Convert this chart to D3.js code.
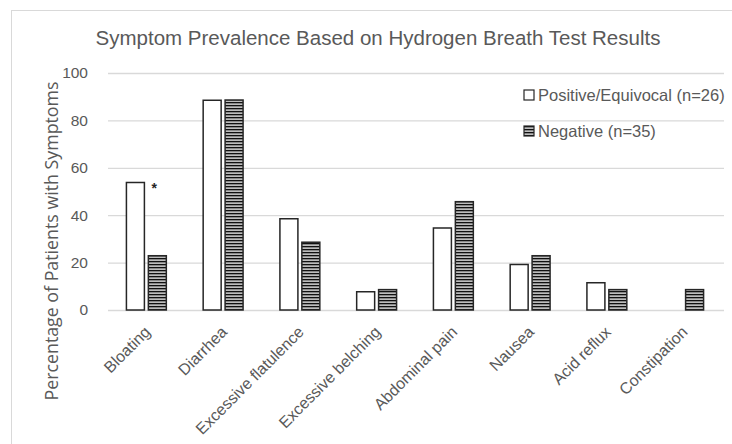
<!DOCTYPE html>
<html>
<head>
<meta charset="utf-8">
<script src="https://cdn.jsdelivr.net/npm/d3@7"></script>
<style>
  body { margin: 0; background: #fff; }
  svg { display: block; }
</style>
</head>
<body>
<div id="canvas"></div>
<script>
const categories = ['Bloating', 'Diarrhea', 'Excessive flatulence', 'Excessive belching',
  'Abdominal pain', 'Nausea', 'Acid reflux', 'Constipation'];
const positive = [53.8, 88.5, 38.5, 7.7, 34.6, 19.2, 11.5, 0];
const negative = [22.9, 88.6, 28.6, 8.6, 45.7, 22.9, 8.6, 8.6];
const seriesNames = ['Positive/Equivocal (n=26)', 'Negative (n=35)'];
const yTicks = [0, 20, 40, 60, 80, 100];
const starred = ['Bloating'];

const w = 732;
const h = 444;
const plotLeft = 108, plotRight = 724, plotTop = 73, plotBottom = 310;
const grey = '#595959';
const sans = 'Liberation Sans, Arial, sans-serif';

const svg = d3.select('#canvas')
  .append('svg')
  .attr('width', w)
  .attr('height', h);

// stripe fill for the negative series
const defs = svg.append('defs');
const pat = defs.append('pattern')
  .attr('id', 'stripes')
  .attr('patternUnits', 'userSpaceOnUse')
  .attr('width', 8)
  .attr('height', 3);
pat.append('rect').attr('width', 8).attr('height', 3).attr('fill', '#bdbdbd');
pat.append('rect').attr('y', 0).attr('width', 8).attr('height', 1.3).attr('fill', '#111');

// outer frame
svg.append('rect')
  .attr('x', 11.5).attr('y', 10.5)
  .attr('width', 760).attr('height', 460)
  .attr('fill', 'none')
  .attr('stroke', '#d9d9d9');

const x0 = d3.scaleBand()
  .domain(categories)
  .range([plotLeft, plotRight - 2])
  .paddingInner(0.48)
  .paddingOuter(0.24);

const x1 = d3.scaleBand()
  .domain([0, 1])
  .range([0, x0.bandwidth()])
  .paddingInner(0.18);

const y = d3.scaleLinear()
  .domain([0, 100])
  .range([plotBottom, plotTop]);

// gridlines + y labels
const yAxis = d3.axisLeft(y)
  .tickValues(yTicks)
  .tickSize(-(plotRight - plotLeft))
  .tickPadding(20)
  .tickFormat(d3.format('d'));

svg.append('g')
  .attr('transform', 'translate(' + plotLeft + ', 0)')
  .call(yAxis)
  .call(g => g.select('.domain').remove())
  .call(g => g.selectAll('.tick line').attr('stroke', '#d9d9d9').attr('stroke-width', 1.3))
  .call(g => g.selectAll('.tick text')
    .attr('fill', grey)
    .style('font-family', sans)
    .style('font-size', '15.5px'));

const series = [positive, negative];
const fills = ['#ffffff', 'url(#stripes)'];

series.forEach((vals, s) => {
  svg.append('g')
    .selectAll('rect')
    .data(categories.map((c, i) => ({ cat: c, v: vals[i] })).filter(d => d.v > 0))
    .enter()
    .append('rect')
    .attr('x', d => x0(d.cat) + x1(s))
    .attr('y', d => y(d.v))
    .attr('width', x1.bandwidth())
    .attr('height', d => y(0) - y(d.v))
    .attr('fill', fills[s])
    .attr('stroke', '#262626')
    .attr('stroke-width', 1.5);
});

// significance marker
svg.selectAll('.star')
  .data(starred)
  .enter()
  .append('text')
  .attr('class', 'star')
  .attr('x', d => x0(d) + x1(0) + x1.bandwidth() + 7)
  .attr('y', d => y(positive[categories.indexOf(d)]) + 11)
  .style('font-family', sans)
  .style('font-size', '14px')
  .style('font-weight', 'bold')
  .attr('fill', '#262626')
  .text('*');

// category labels
svg.append('g')
  .selectAll('text')
  .data(categories)
  .enter()
  .append('text')
  .attr('transform', d => 'translate(' + (x0(d) + x0.bandwidth() / 2 + 5) + ', ' + (plotBottom + 23) + ') rotate(-45)')
  .style('text-anchor', 'end')
  .style('font-family', sans)
  .style('font-size', '16px')
  .attr('fill', grey)
  .text(d => d);

// title
svg.append('text')
  .attr('x', 378)
  .attr('y', 45)
  .style('text-anchor', 'middle')
  .style('font-family', sans)
  .style('font-size', '20.5px')
  .attr('fill', grey)
  .text('Symptom Prevalence Based on Hydrogen Breath Test Results');

// y title
svg.append('text')
  .attr('transform', 'rotate(-90)')
  .attr('x', -241)
  .attr('y', 58)
  .style('text-anchor', 'middle')
  .style('font-family', 'Open Sans, sans-serif')
  .style('font-size', '17.8px')
  .attr('fill', grey)
  .text('Percentage of Patients with Symptoms');

// legend
const legend = svg.append('g')
  .selectAll('g')
  .data(seriesNames)
  .enter()
  .append('g')
  .attr('transform', (d, i) => 'translate(524, ' + (90 + i * 36) + ')');

legend.append('rect')
  .attr('width', 10)
  .attr('height', 10)
  .attr('fill', (d, i) => fills[i])
  .attr('stroke', '#262626')
  .attr('stroke-width', 1.2);

legend.append('text')
  .attr('x', 14)
  .attr('y', 10.5)
  .style('font-family', sans)
  .style('font-size', '16.5px')
  .attr('fill', grey)
  .text(d => d);
</script>
</body>
</html>
